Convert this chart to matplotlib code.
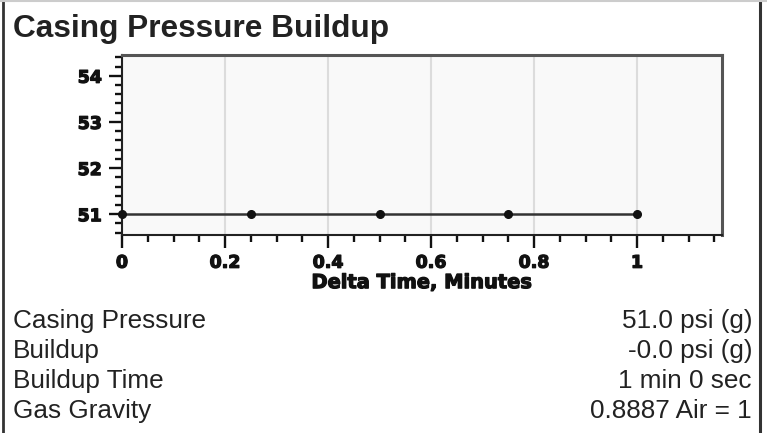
import matplotlib
matplotlib.use("Agg")
import matplotlib.pyplot as plt
from matplotlib.ticker import MultipleLocator, FuncFormatter
from matplotlib.lines import Line2D
import matplotlib.patheffects as pe

# Data
delta_time = [0.0, 0.25, 0.5, 0.75, 1.0]
pressure = [51.0, 51.0, 51.0, 51.0, 51.0]

title = "Casing Pressure Buildup"
x_label = "Delta Time, Minutes"
info_labels = ["Casing Pressure", "Buildup", "Buildup Time", "Gas Gravity"]
info_values = ["51.0 psi (g)", "-0.0 psi (g)", "1 min 0 sec", "0.8887 Air = 1"]

W, H = 767, 433
fig = plt.figure(figsize=(W / 100, H / 100), dpi=100)
fig.patch.set_facecolor("white")

tick_font = ["DejaVu Sans"]
heavy = [pe.withStroke(linewidth=0.9, foreground="#111111")]

# Axes
ax = fig.add_axes([122 / W, 1 - 235 / H, (722 - 122) / W, (235 - 55) / H])
ax.set_facecolor("#f9f9f9")
ax.plot(delta_time, pressure, color="#333333", lw=1.8, marker="o",
        markersize=5.5, markerfacecolor="#111111", markeredgecolor="#111111",
        clip_on=False, zorder=3)
ax.set_xlim(0, 1.165)
ax.set_ylim(50.55, 54.45)

ax.xaxis.set_major_locator(MultipleLocator(0.2))
ax.xaxis.set_minor_locator(MultipleLocator(0.05))
ax.yaxis.set_major_locator(MultipleLocator(1))
ax.yaxis.set_minor_locator(MultipleLocator(0.2))

def xfmt(v, pos):
    if abs(v) < 1e-9:
        return "0"
    if abs(v - round(v)) < 1e-9:
        return "%d" % round(v)
    return ("%.1f" % v)

ax.xaxis.set_major_formatter(FuncFormatter(xfmt))
ax.yaxis.set_major_formatter(FuncFormatter(lambda v, p: "%d" % round(v)))

ax.grid(axis="x", which="major", color="#dcdcdc", lw=1.5)
ax.set_axisbelow(True)

ax.tick_params(axis="both", which="major", direction="out", length=9.5,
               width=1.7, color="#111111", pad=4)
ax.tick_params(axis="both", which="minor", direction="out", length=5,
               width=1.7, color="#111111")
ax.tick_params(axis="y", which="major", pad=5)

for lbl in ax.get_xticklabels() + ax.get_yticklabels():
    lbl.set_family(tick_font)
    lbl.set_fontweight("bold")
    lbl.set_fontsize(12.5)
    lbl.set_color("#111111")
    lbl.set_path_effects(heavy)

xl = ax.set_xlabel(x_label, fontsize=14, fontweight="bold", family=tick_font,
                   color="#111111", labelpad=1)
xl.set_path_effects(heavy)

for side in ["left", "bottom"]:
    ax.spines[side].set_color("#222222")
    ax.spines[side].set_linewidth(1.5)
for side in ["top", "right"]:
    ax.spines[side].set_color("#555555")
    ax.spines[side].set_linewidth(2.2)

# Title
fig.text(13 / W, 1 - 37 / H, title, fontsize=22.8, fontweight="bold",
         family="Liberation Sans", color="#222222", ha="left", va="baseline")

# Info rows
baselines = [328, 358, 388, 418]
for lab, val, b in zip(info_labels, info_values, baselines):
    fig.text(13 / W, 1 - b / H, lab, fontsize=18.8, family="Liberation Sans",
             color="#222222", ha="left", va="baseline")
    fig.text(752 / W, 1 - b / H, val, fontsize=18.8, family="Liberation Sans",
             color="#222222", ha="right", va="baseline")

# Frame lines
fig.add_artist(Line2D([3.5 / W, 3.5 / W], [0, 1], transform=fig.transFigure,
                      color="#333333", lw=2))
fig.add_artist(Line2D([760 / W, 760 / W], [0, 1], transform=fig.transFigure,
                      color="#333333", lw=2.2))
fig.add_artist(Line2D([0, 1], [1 - 0.8 / H, 1 - 0.8 / H], transform=fig.transFigure,
                      color="#cccccc", lw=1.5))

fig.savefig("out.png", dpi=100, facecolor="white")
